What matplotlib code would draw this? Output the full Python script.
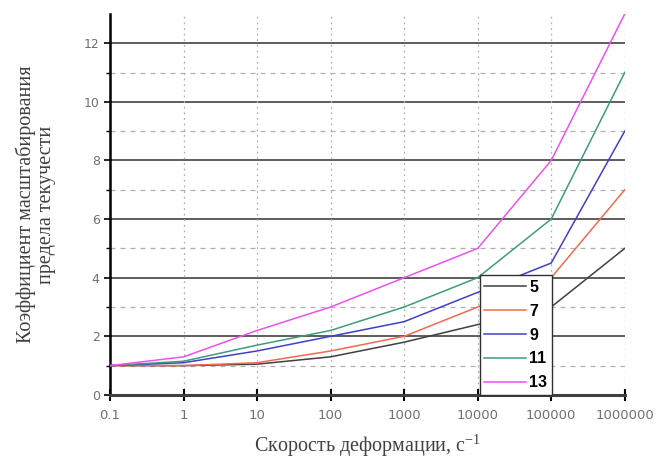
import numpy as np
import matplotlib
matplotlib.use("Agg")
import matplotlib.pyplot as plt
from matplotlib.ticker import FixedLocator, FixedFormatter

plt.rcParams["mathtext.fontset"] = "custom"
plt.rcParams["mathtext.rm"] = "Liberation Serif"
plt.rcParams["mathtext.it"] = "Liberation Serif:italic"

# --- Data -------------------------------------------------------------
strain_rate = [0.1, 1, 10, 100, 1000, 10000, 100000, 1000000]
tick_labels = ["0.1", "1", "10", "100", "1000", "10000", "100000", "1000000"]

k5 = [1.0, 1.0, 1.05, 1.3, 1.8, 2.4, 3.0, 5.0]
k7 = [1.0, 1.0, 1.1, 1.5, 2.0, 3.0, 4.0, 7.0]
k9 = [1.0, 1.1, 1.5, 2.0, 2.5, 3.5, 4.5, 9.0]
k11 = [1.0, 1.15, 1.7, 2.2, 3.0, 4.0, 6.0, 11.0]
k13 = [1.0, 1.3, 2.2, 3.0, 4.0, 5.0, 8.0, 13.0]

series = [("5", k5, "#404040"), ("7", k7, "#f26a50"), ("9", k9, "#4040c8"),
          ("11", k11, "#3f9a80"), ("13", k13, "#f050f0")]

# --- Plot -------------------------------------------------------------
fig = plt.figure(figsize=(6.59, 4.63), dpi=100)
ax = fig.add_axes([0.167, 0.147, 0.781, 0.823])

ax.set_xscale("log")
ax.set_xlim(0.1, 1000000)
ax.set_ylim(0, 13)

# grid: solid major, dashed minor horizontal, dotted vertical
for y in range(2, 13, 2):
    ax.axhline(y, color="#505050", lw=1.3, zorder=1)
for y in range(1, 13, 2):
    ax.axhline(y, color="#b0b0b0", lw=0.9, ls=(0, (4, 4)), zorder=1)
for x in strain_rate[1:]:
    ax.axvline(x, color="#b0b0b0", lw=0.9, ls=(0, (1.5, 3)), zorder=1)

for name, vals, col in series:
    ax.plot(strain_rate, vals, color=col, lw=1.1, label=name, zorder=3)

ax.xaxis.set_major_locator(FixedLocator(strain_rate))
ax.xaxis.set_major_formatter(FixedFormatter(tick_labels))
ax.xaxis.set_minor_locator(FixedLocator([]))
ax.set_yticks(range(0, 13, 2))
ax.set_yticks(range(1, 13, 2), minor=True)

ax.tick_params(axis="x", which="major", direction="inout", length=8, width=1.5,
               labelsize=9.5, labelcolor="#707070", pad=6)
ax.tick_params(axis="y", which="major", direction="out", length=4, width=1.2,
               labelsize=9, labelcolor="#707070")
ax.tick_params(axis="y", which="minor", direction="out", length=3, width=1.0)

for side in ["top", "right"]:
    ax.spines[side].set_visible(False)
ax.spines["left"].set_linewidth(1.8)
ax.spines["bottom"].set_linewidth(2.2)
ax.spines["bottom"].set_color("#404040")

ax.set_xlabel("Скорость деформации, с$^{-1}$", family="Liberation Serif",
              fontsize=14.5, color="#404040", labelpad=8)
ax.set_ylabel("Коэффициент масштабирования\nпредела текучести",
              family="Liberation Serif", fontsize=14.5, color="#404040",
              labelpad=20, linespacing=1.05)

leg = ax.legend(loc="lower left", bbox_to_anchor=(0.718, 0.0), borderaxespad=0,
                handlelength=2.6, handletextpad=0.2, labelspacing=0.55,
                fancybox=False, framealpha=1, edgecolor="#303030",
                prop={"family": "Liberation Sans", "weight": "bold", "size": 11.5},
                borderpad=0.3)
leg.get_frame().set_linewidth(1.0)
leg.set_zorder(5)

plt.savefig("out.png", dpi=100)
